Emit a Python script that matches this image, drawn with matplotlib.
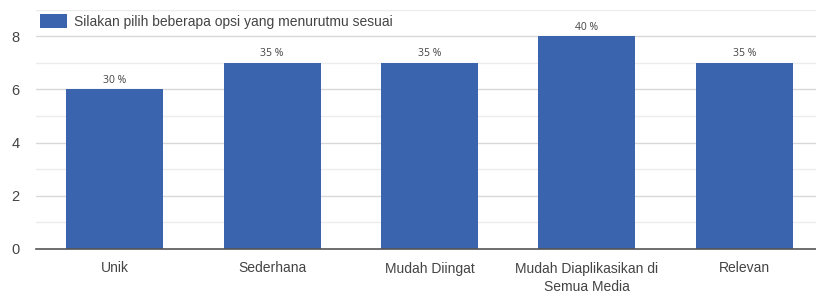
import matplotlib
matplotlib.use("Agg")
import matplotlib.pyplot as plt
from matplotlib.ticker import MultipleLocator

categories = ["Unik", "Sederhana", "Mudah Diingat", "Mudah Diaplikasikan di\nSemua Media", "Relevan"]
counts = [6, 7, 7, 8, 7]
percent_labels = ["30 %", "35 %", "35 %", "40 %", "35 %"]
series_name = "Silakan pilih beberapa opsi yang menurutmu sesuai"
yticks = [0, 2, 4, 6, 8]

bar_color = "#3b64ae"
text_color = "#444444"

plt.rcParams['font.family'] = ['Liberation Sans', 'DejaVu Sans']

fig = plt.figure(figsize=(8.16, 3.01), dpi=100)
ax = fig.add_axes([36/816, 1 - 249/301, (816 - 36)/816, (249 - 9.6)/301])

x = list(range(len(categories)))
bars = ax.bar(x, counts, width=0.616, color=bar_color, zorder=3, label=series_name)

for xi, c, lab in zip(x, counts, percent_labels):
    ax.annotate(lab, (xi, c), xytext=(0, 2.5), textcoords="offset points",
                ha="center", va="bottom", fontsize=7.5, color=text_color,
                family=['Open Sans', 'DejaVu Sans'])

ax.set_xlim(-0.5, 4.455)
ax.set_ylim(0, 9)
ax.set_yticks(yticks)
ax.yaxis.set_minor_locator(MultipleLocator(1))
ax.grid(axis="y", which="major", color="#d8d8d8", linewidth=1, zorder=0)
ax.grid(axis="y", which="minor", color="#ececec", linewidth=1, zorder=0)
ax.set_xticks(x)
ax.set_xticklabels(categories, fontsize=10, color=text_color, linespacing=1.45)
ax.tick_params(axis="y", which="both", length=0, labelsize=10.5, labelcolor=text_color, pad=12)
ax.tick_params(axis="x", length=0, pad=9)

for s in ["top", "right", "left"]:
    ax.spines[s].set_visible(False)
ax.spines["bottom"].set_color("#555555")
ax.spines["bottom"].set_linewidth(1.2)
ax.spines["bottom"].set_zorder(4)

leg = ax.legend(loc="upper left", bbox_to_anchor=(0.0, 1.0), frameon=False,
                fontsize=10, handlelength=1.9, handleheight=1.2, handletextpad=0.55,
                borderaxespad=0.15, borderpad=0.15)
for t in leg.get_texts():
    t.set_color(text_color)

fig.savefig("out.png", dpi=100)
